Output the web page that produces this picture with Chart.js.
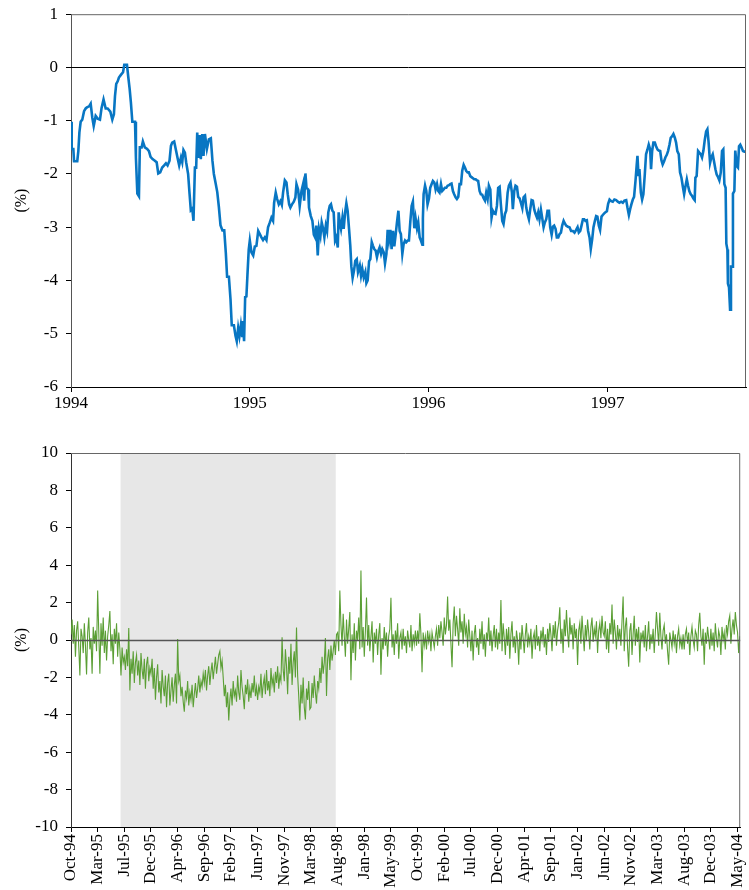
<!DOCTYPE html>
<html>
<head>
<meta charset="utf-8">
<script src="https://cdn.jsdelivr.net/npm/chart.js@4.4.1/dist/chart.umd.min.js"></script>
<style>
  html, body { margin: 0; padding: 0; background: #fff; overflow: hidden; }
  #wrap { position: relative; width: 749px; height: 890px; overflow: hidden; }
  canvas { position: absolute; left: 0; }
  #topChart { top: -4px; }
  #bottomChart { top: 420px; }
</style>
</head>
<body>
<div id="wrap">
  <canvas id="topChart" width="760" height="424"></canvas>
  <canvas id="bottomChart" width="760" height="470"></canvas>
</div>
<script>
// ---- top panel: 1994 - Oct 1997 (decimal years) ----
const topYears = [
  1994.000, 1994.004, 1994.013, 1994.017, 1994.035, 1994.041, 1994.047, 1994.054, 1994.063, 1994.073,
  1994.082, 1994.089, 1994.101, 1994.110, 1994.119, 1994.127, 1994.138, 1994.149, 1994.162, 1994.171,
  1994.182, 1994.194, 1994.205, 1994.220, 1994.231, 1994.240, 1994.246, 1994.253, 1994.261, 1994.268,
  1994.279, 1994.291, 1994.298, 1994.313, 1994.320, 1994.328, 1994.335, 1994.343, 1994.358, 1994.363,
  1994.371, 1994.380, 1994.385, 1994.395, 1994.402, 1994.413, 1994.426, 1994.436, 1994.445, 1994.456,
  1994.469, 1994.479, 1994.488, 1994.499, 1994.510, 1994.521, 1994.531, 1994.540, 1994.551, 1994.559,
  1994.566, 1994.577, 1994.588, 1994.596, 1994.605, 1994.615, 1994.622, 1994.629, 1994.637, 1994.644,
  1994.655, 1994.663, 1994.670, 1994.678, 1994.685, 1994.693, 1994.700, 1994.706, 1994.711, 1994.719,
  1994.726, 1994.734, 1994.741, 1994.749, 1994.760, 1994.771, 1994.782, 1994.791, 1994.799, 1994.808,
  1994.818, 1994.827, 1994.836, 1994.847, 1994.857, 1994.866, 1994.873, 1994.883, 1994.892, 1994.899,
  1994.911, 1994.920, 1994.927, 1994.935, 1994.942, 1994.950, 1994.957, 1994.961, 1994.968, 1994.974,
  1994.981, 1994.987, 1994.994,
  1995.000, 1995.009, 1995.019, 1995.028, 1995.037, 1995.047, 1995.056, 1995.065, 1995.074, 1995.084,
  1995.093, 1995.102, 1995.112, 1995.121, 1995.130, 1995.136, 1995.145, 1995.153, 1995.162, 1995.171,
  1995.179, 1995.186, 1995.196, 1995.205, 1995.212, 1995.220, 1995.227, 1995.236, 1995.246, 1995.255,
  1995.261, 1995.270, 1995.279, 1995.289, 1995.298, 1995.304, 1995.311, 1995.317, 1995.326, 1995.331,
  1995.341, 1995.350, 1995.358, 1995.365, 1995.372, 1995.380, 1995.387, 1995.395, 1995.402, 1995.410,
  1995.417, 1995.425, 1995.432, 1995.439, 1995.447, 1995.454, 1995.462, 1995.469, 1995.477, 1995.484,
  1995.492, 1995.497, 1995.503, 1995.510, 1995.518, 1995.525, 1995.533, 1995.540, 1995.547, 1995.555,
  1995.562, 1995.568, 1995.575, 1995.583, 1995.590, 1995.598, 1995.605, 1995.615, 1995.622, 1995.629,
  1995.637, 1995.646, 1995.652, 1995.659, 1995.667, 1995.674, 1995.682, 1995.689, 1995.696, 1995.704,
  1995.711, 1995.719, 1995.726, 1995.734, 1995.741, 1995.749, 1995.756, 1995.764, 1995.771, 1995.778,
  1995.786, 1995.793, 1995.801, 1995.808, 1995.816, 1995.823, 1995.831, 1995.838, 1995.845, 1995.853,
  1995.860, 1995.868, 1995.875, 1995.883, 1995.890, 1995.898, 1995.905, 1995.912, 1995.920, 1995.927,
  1995.935, 1995.942, 1995.950, 1995.957, 1995.965, 1995.968, 1995.972, 1995.980, 1995.987, 1995.994,
  1996.002, 1996.009, 1996.017, 1996.024, 1996.032, 1996.039, 1996.047, 1996.054, 1996.061, 1996.069,
  1996.076, 1996.084, 1996.091, 1996.099, 1996.106, 1996.114, 1996.121, 1996.128, 1996.136, 1996.143,
  1996.151, 1996.158, 1996.166, 1996.173, 1996.181, 1996.188, 1996.196, 1996.203, 1996.210, 1996.218,
  1996.225, 1996.233, 1996.240, 1996.248, 1996.255, 1996.263, 1996.270, 1996.277, 1996.285, 1996.292,
  1996.300, 1996.307, 1996.315, 1996.322, 1996.330, 1996.337, 1996.345, 1996.352, 1996.359, 1996.367,
  1996.374, 1996.382, 1996.389,
  1996.397, 1996.404, 1996.412, 1996.419, 1996.427, 1996.434, 1996.442, 1996.449, 1996.458, 1996.466,
  1996.471, 1996.479, 1996.486, 1996.494, 1996.501, 1996.509, 1996.516, 1996.524, 1996.531, 1996.539,
  1996.546, 1996.553, 1996.561, 1996.568, 1996.576, 1996.583, 1996.591, 1996.598, 1996.606, 1996.613,
  1996.620, 1996.628, 1996.635, 1996.643, 1996.650, 1996.658, 1996.665, 1996.673, 1996.680, 1996.688,
  1996.695, 1996.702, 1996.710, 1996.717, 1996.725, 1996.732, 1996.740, 1996.747, 1996.755, 1996.762,
  1996.769, 1996.779, 1996.788, 1996.797, 1996.807, 1996.816, 1996.825, 1996.833, 1996.840, 1996.848,
  1996.855, 1996.863, 1996.870, 1996.877, 1996.885, 1996.892, 1996.900, 1996.907, 1996.915, 1996.922,
  1996.930, 1996.937, 1996.944, 1996.952, 1996.959, 1996.967, 1996.974, 1996.982, 1996.989, 1996.997,
  1997.004, 1997.012, 1997.021, 1997.030, 1997.039, 1997.049, 1997.058, 1997.067, 1997.077, 1997.086,
  1997.095, 1997.105, 1997.112, 1997.120, 1997.127, 1997.134, 1997.142, 1997.149, 1997.157, 1997.164,
  1997.168, 1997.174, 1997.179, 1997.187, 1997.194, 1997.201, 1997.209, 1997.216, 1997.224, 1997.231,
  1997.239, 1997.244, 1997.250, 1997.257, 1997.265, 1997.272, 1997.280, 1997.287, 1997.295, 1997.302,
  1997.309, 1997.317, 1997.324, 1997.332, 1997.339, 1997.347, 1997.354, 1997.362, 1997.369, 1997.377,
  1997.384, 1997.391, 1997.399, 1997.406, 1997.414, 1997.421, 1997.429, 1997.436, 1997.444, 1997.451,
  1997.458, 1997.466, 1997.473, 1997.481, 1997.488, 1997.492, 1997.499, 1997.507, 1997.514, 1997.522,
  1997.529, 1997.537, 1997.544, 1997.552, 1997.559, 1997.566, 1997.574, 1997.581, 1997.589, 1997.596,
  1997.604, 1997.611, 1997.619, 1997.626, 1997.634, 1997.641, 1997.648, 1997.654, 1997.661, 1997.665,
  1997.671, 1997.674, 1997.680, 1997.686, 1997.691, 1997.697, 1997.702, 1997.710, 1997.715, 1997.723,
  1997.730, 1997.736, 1997.743, 1997.751, 1997.758, 1997.766, 1997.775
];
const topValues = [
  -1.02, -1.53, -1.53, -1.76, -1.76, -1.57, -1.22, -1.02, -0.98, -0.82,
  -0.77, -0.75, -0.73, -0.68, -0.94, -1.10, -0.91, -0.96, -0.98, -0.76,
  -0.60, -0.77, -0.77, -0.83, -0.98, -0.88, -0.54, -0.31, -0.26, -0.19,
  -0.14, -0.09, 0.05, 0.05, -0.17, -0.40, -0.66, -1.02, -1.02, -1.69,
  -2.37, -2.42, -1.50, -1.50, -1.39, -1.50, -1.53, -1.57, -1.68, -1.72,
  -1.75, -1.78, -1.99, -1.97, -1.88, -1.84, -1.80, -1.84, -1.75, -1.47,
  -1.41, -1.39, -1.57, -1.70, -1.84, -1.69, -1.78, -1.55, -1.60, -1.78,
  -2.00, -2.37, -2.68, -2.65, -2.88, -1.88, -1.88, -1.22, -1.70, -1.27,
  -1.72, -1.25, -1.66, -1.25, -1.53, -1.35, -1.33, -1.75, -2.00, -2.16,
  -2.34, -2.62, -2.96, -3.06, -3.06, -3.49, -3.93, -3.93, -4.35, -4.84,
  -4.84, -5.04, -5.14, -4.89, -5.04, -4.84, -5.04, -4.76, -5.14, -4.31,
  -4.30, -3.88, -3.42,
  -3.25, -3.47, -3.53, -3.36, -3.35, -3.07, -3.13, -3.19, -3.24, -3.19,
  -3.24, -3.00, -2.91, -2.82, -2.88, -2.54, -2.35, -2.47, -2.57, -2.51,
  -2.58, -2.35, -2.12, -2.16, -2.38, -2.57, -2.63, -2.57, -2.52, -2.44,
  -2.19, -2.29, -2.60, -2.32, -2.19, -2.50, -1.99, -2.26, -2.29, -2.63,
  -2.79, -2.88, -3.14, -3.19, -2.97, -3.53, -3.03, -3.16, -2.91, -3.03,
  -3.19, -2.97, -3.07, -2.72, -2.60, -2.57, -2.69, -2.72, -3.25, -3.19,
  -3.38, -2.72, -2.91, -3.03, -2.82, -3.03, -2.72, -2.55, -2.69, -3.03,
  -3.35, -3.74, -3.95, -3.81, -3.63, -3.60, -3.84, -3.72, -3.91, -3.78,
  -3.94, -3.84, -4.05, -4.00, -3.64, -3.60, -3.28, -3.35, -3.41, -3.44,
  -3.56, -3.44, -3.38, -3.50, -3.41, -3.47, -3.68, -3.50, -3.05, -3.25,
  -3.05, -3.41, -3.07, -3.36, -3.13, -2.91, -2.69, -3.07, -3.13, -3.50,
  -3.32, -3.25, -3.28, -3.25, -3.25, -2.88, -2.60, -2.52, -3.02, -2.83,
  -3.02, -2.91, -3.19, -3.25, -3.33, -2.83, -2.38, -2.22, -2.32, -2.57,
  -2.46, -2.26, -2.19, -2.13, -2.16, -2.29, -2.19, -2.32, -2.35, -2.19,
  -2.32, -2.29, -2.26, -2.26, -2.22, -2.21, -2.19, -2.18, -2.32, -2.38,
  -2.44, -2.47, -2.43, -2.19, -2.19, -1.94, -1.83, -1.88, -1.94, -1.97,
  -1.97, -2.04, -2.06, -2.08, -2.10, -2.10, -2.12, -2.13, -2.32, -2.38,
  -2.39, -2.45, -2.50, -2.35, -2.47, -2.22, -2.29, -2.82, -2.69, -2.74,
  -2.75, -2.60, -2.26,
  -2.24, -2.57, -2.88, -2.94, -2.75, -2.69, -2.35, -2.22, -2.16, -2.35,
  -2.66, -2.32, -2.22, -2.24, -2.43, -2.46, -2.54, -2.64, -2.44, -2.41,
  -2.63, -2.75, -2.85, -2.67, -2.49, -2.50, -2.67, -2.75, -2.82, -2.72,
  -2.85, -2.67, -2.82, -3.00, -2.91, -2.85, -2.69, -2.69, -3.00, -3.14,
  -2.99, -2.97, -3.03, -3.19, -3.19, -3.13, -3.10, -2.97, -2.88, -2.93,
  -2.97, -2.99, -3.00, -3.07, -3.07, -3.10, -3.05, -3.00, -3.10, -3.07,
  -2.97, -2.85, -2.85, -2.88, -2.87, -3.07, -3.19, -3.41, -3.22, -3.00,
  -2.88, -2.79, -2.80, -2.97, -3.05, -2.80, -2.77, -2.74, -2.72, -2.70,
  -2.56, -2.48, -2.51, -2.52, -2.48, -2.49, -2.52, -2.54, -2.52, -2.54,
  -2.50, -2.49, -2.63, -2.77, -2.66, -2.57, -2.48, -2.43, -2.13, -1.82,
  -1.66, -2.04, -1.91, -2.35, -2.48, -2.38, -2.01, -1.63, -1.54, -1.45,
  -1.54, -1.91, -1.57, -1.41, -1.41, -1.48, -1.54, -1.56, -1.57, -1.74,
  -1.82, -1.76, -1.69, -1.64, -1.57, -1.45, -1.32, -1.29, -1.25, -1.32,
  -1.41, -1.57, -1.63, -1.97, -2.07, -2.22, -2.38, -2.24, -2.10, -2.22,
  -2.32, -2.38, -2.41, -2.46, -2.49, -2.07, -2.04, -1.57, -1.60, -1.63,
  -1.69, -1.56, -1.37, -1.20, -1.16, -1.41, -1.79, -1.69, -1.63, -1.76,
  -1.91, -2.01, -2.06, -2.12, -1.97, -1.57, -1.54, -2.19, -2.26, -3.31,
  -3.42, -4.06, -4.13, -4.55, -3.74, -3.74, -2.37, -2.32, -1.56, -1.85,
  -1.88, -1.48, -1.45, -1.51, -1.57, -1.58, -1.58
];
const topYearTicks = [1994, 1995, 1996, 1997];

// ---- bottom panel: Oct-94 to May-04, 24 readings per tick interval ----
const bottomTickLabels = [
  'Oct-94', 'Mar-95', 'Jul-95', 'Dec-95', 'Apr-96', 'Sep-96', 'Feb-97', 'Jun-97', 'Nov-97',
  'Mar-98', 'Aug-98', 'Jan-98', 'May-99', 'Oct-99', 'Feb-00', 'Jul-00', 'Dec-00', 'Apr-01',
  'Sep-01', 'Jan-02', 'Jun-02', 'Nov-02', 'Mar-03', 'Aug-03', 'Dec-03', 'May-04'
];
const samplesPerTick = 24;
const bottomValues = [
  // Oct-94
  0.3, 1.1, -0.2, 0.8, -0.9, 0.5, 1.0, -0.4, -1.9, 0.6, 0.2, -0.7, 0.9, -0.3, -1.85, 0.4, 1.2, -0.5, 0.1, -1.8, 0.7, -0.2, 0.5, -0.6,
  // Mar-95
  2.65, 0.4, -1.8, 0.9, -0.3, 1.2, -0.7, 0.5, -1.1, 0.2, 0.8, 1.55, -0.6, 0.3, -1.3, 0.6, -0.2, 0.9, -0.9, 0.4, -0.5, -1.9, -0.4, -1.2,
  // Jul-95
  -0.9, -1.6, -0.5, -1.4, 0.64, -2.7, -1.0, -1.8, -0.6, -2.3, -1.2, -0.8, -1.9, -1.1, -2.4, -0.7, -1.6, -2.1, -1.0, -2.6, -1.3, -0.9, -2.2, -1.5,
  // Dec-95
  -1.8, -1.0, -2.6, -1.5, -3.2, -2.0, -1.3, -2.8, -2.2, -3.4, -1.6, -2.5, -3.0, -1.9, -3.6, -2.3, -1.8, -3.5, -2.7, -2.0, -3.3, -2.4, -1.8, -3.4,
  // Apr-96
  0.05, -2.2, -1.9, -3.0, -2.5, -3.3, -3.84, -2.7, -3.1, -2.2, -3.5, -2.8, -3.2, -2.4, -3.6, -2.9, -2.3, -3.1, -2.6, -1.9, -2.8, -2.2, -2.5, -1.8,
  // Sep-96
  -2.3, -1.6, -2.7, -1.9, -1.4, -2.4, -1.7, -1.2, -2.1, -1.5, -0.9, -1.8, -1.3, -0.8, -0.6, -1.5, -1.1, -2.0, -3.0, -2.4, -3.6, -2.8, -4.3, -3.2,
  // Feb-97
  -2.6, -3.5, -2.2, -3.0, -2.7, -3.3, -1.9, -2.8, -3.2, -1.6, -2.5, -3.0, -3.7, -2.4, -2.9, -2.1, -3.3, -2.6, -3.1, -2.3, -2.8, -1.9, -3.0, -2.5,
  // Jun-97
  -3.2, -2.5, -2.8, -1.8, -3.1, -2.4, -2.0, -2.9, -1.6, -2.7, -2.2, -3.0, -1.5, -2.4, -2.0, -2.8, -1.7, -2.3, -1.4, -2.6, -1.9, -2.2, 0.15, -1.6,
  // Nov-97
  -2.2, -0.5, -1.4, -2.9, -0.9, -1.8, -0.2, -2.4, -1.2, -0.6, -2.0, 0.67, -1.9, -3.0, -4.3, -2.4, -3.4, -2.0, -3.6, -4.25, -2.6, -3.2, -2.2, -3.7,
  // Mar-98
  -3.6, -2.3, -3.1, -1.9, -2.8, -3.4, -2.2, -2.6, -1.5, -2.3, -0.9, -1.8, -1.2, 0.1, -3.0, -1.0, -0.5, -1.6, -0.3, -1.1, -0.6, 0.0, -0.8, 0.3,
  // Aug-98
  0.4, -0.6, 2.65, 0.8, -0.3, 1.4, 0.2, -0.9, 1.1, -0.2, 0.6, 1.5, -2.15, 0.3, -0.7, 0.9, -1.1, 0.5, 0.0, 1.2, -0.5, 3.72, -0.4, 0.7,
  // Jan-98
  -0.9, 0.5, 2.27, -0.3, 0.8, -0.6, 0.2, 1.0, -1.2, 0.4, -0.2, 0.6, -0.8, 0.3, 0.9, -1.86, 0.1, -0.5, 0.7, -0.3, 0.4, -0.9, 0.2, 0.6,
  // May-99
  2.26, -0.4, 0.3, -0.8, 0.5, -0.2, 0.9, -1.0, 0.1, 0.4, -0.5, 0.6, -0.3, 0.2, -0.7, 0.5, 0.0, -0.4, 0.8, -0.6, 0.3, -0.2, 0.5, -0.3,
  // Oct-99
  0.5, -0.2, 1.43, 0.3, -1.73, 0.4, -0.3, 0.2, -0.5, 0.5, -0.1, 0.3, -0.6, 0.4, 0.0, -0.4, 0.2, 0.6, -0.3, 0.8, 0.1, 1.0, 0.4, -0.3,
  // Feb-00
  1.2, 0.3, 0.8, 2.33, 0.5, 1.1, -0.2, -1.46, 0.9, 1.79, 0.2, 1.3, 0.6, -0.3, 1.7, 0.4, 1.0, -0.2, 1.4, 0.3, 0.7, -0.4, 1.1, 0.2,
  // Jul-00
  -0.6, 0.5, -1.1, 0.3, 0.8, -0.4, 0.1, -0.8, 0.6, -0.2, 1.0, -0.5, 0.3, -0.9, 0.4, 0.0, 1.2, -0.3, 0.5, -0.6, 0.2, 0.8, -0.4, 0.6,
  // Dec-00
  -0.5, 0.4, -0.2, 2.14, -0.6, 0.9, 0.1, -0.8, 0.6, -0.3, 0.7, -1.0, 0.3, 1.0, -0.4, 0.2, -0.7, 0.5, 0.0, -1.32, 0.4, -0.5, 0.8, 0.1,
  // Apr-01
  -0.7, 0.3, 0.9, -0.4, 0.2, -0.2, 0.6, -1.0, 0.1, 0.4, -0.5, 0.8, -0.3, 0.2, -0.6, 0.5, 0.0, 0.7, -0.4, 0.3, -0.8, 0.6, -0.1, 0.9,
  // Sep-01
  0.3, -0.6, 0.8, 0.1, 1.0, -0.3, 0.5, 0.9, 1.75, -0.2, 0.6, -0.7, 1.1, 0.2, 1.6, 0.4, -0.4, 1.2, 0.3, 0.8, -0.5, 0.9, 0.1, 0.6,
  // Jan-02
  -1.34, 0.5, 0.9, -0.2, 1.3, 0.3, -0.6, 0.8, 0.0, 1.1, 0.4, -0.5, 0.7, 1.2, -0.1, 0.6, 0.2, 1.0, -0.7, 0.5, 0.9, 0.1, 1.3, 0.4,
  // Jun-02
  0.2, 1.0, -0.5, 0.6, -0.7, 0.9, 0.3, 1.9, -0.2, 1.1, 0.4, -0.5, 0.8, 0.0, 0.6, -0.3, 1.0, 2.33, -0.6, 0.7, 1.2, -0.4, -1.43, 0.5,
  // Nov-02
  0.9, -0.8, 0.3, 1.3, -0.3, 0.6, -0.1, 0.7, -1.2, 0.4, 0.0, 0.5, -0.4, 0.8, -0.6, 0.2, 1.0, -0.5, 0.3, -0.2, 0.6, -0.7, 0.4, 1.5,
  // Mar-03
  0.6, -0.3, 1.45, 0.2, -0.5, 0.5, 0.8, -0.2, 0.3, -0.6, -1.32, 0.4, 0.0, -0.4, 0.5, -0.2, 0.3, -0.7, 0.2, 0.6, -0.3, 0.1, -0.5, 0.3,
  // Aug-03
  -0.5, 0.3, 0.6, -0.2, 0.4, -0.8, 0.2, 0.7, 0.0, -0.4, 0.5, 0.3, -0.6, 0.8, 1.45, 0.2, -0.3, 0.6, -1.32, 0.4, -0.2, 0.7, 0.1, -0.5,
  // Dec-03
  0.6, -0.3, 0.4, -0.6, 0.9, 0.1, -0.4, 0.5, 0.2, -0.8, 0.7, 0.0, 0.4, -0.5, 0.8, 0.3, 1.0, 1.3, -0.2, 0.6, 1.1, 0.3, 1.5, 0.8,
  // May-04
  0.4, -0.7, 0.2
];
const shadeFrom = 1.86;   // just before Jul-95
const shadeTo = 9.93;     // just before Aug-98

const SERIF = '"Liberation Serif", "DejaVu Serif", serif';
Chart.defaults.font.family = SERIF;
Chart.defaults.font.size = 17;
Chart.defaults.color = '#000';

// shading, zero line and the top/right frame of each panel
const panelDecor = {
  id: 'panelDecor',
  beforeDatasetsDraw(chart, args, opts) {
    const { ctx, chartArea: a, scales: { x, y } } = chart;
    ctx.save();
    if (opts.shade) {
      const x0 = x.getPixelForValue(opts.shade[0]);
      const x1 = x.getPixelForValue(opts.shade[1]);
      ctx.fillStyle = '#e7e7e7';
      ctx.fillRect(x0, a.top, x1 - x0, a.bottom - a.top);
    }
    if (!opts.zeroOnTop) drawZero(ctx, a, y, opts);
    ctx.restore();
  },
  afterDatasetsDraw(chart, args, opts) {
    const { ctx, chartArea: a, scales: { y } } = chart;
    ctx.save();
    if (opts.zeroOnTop) drawZero(ctx, a, y, opts);
    ctx.strokeStyle = '#666';
    ctx.lineWidth = 1;
    ctx.beginPath();
    ctx.moveTo(a.left, a.top + 0.5);
    ctx.lineTo(a.right - 0.5, a.top + 0.5);
    ctx.lineTo(a.right - 0.5, a.bottom);
    ctx.stroke();
    ctx.restore();
  }
};
function drawZero(ctx, a, y, opts) {
  const yz = Math.round(y.getPixelForValue(0)) + 0.5;
  ctx.strokeStyle = opts.zeroColor;
  ctx.lineWidth = opts.zeroWidth;
  ctx.beginPath();
  ctx.moveTo(a.left, yz);
  ctx.lineTo(a.right, yz);
  ctx.stroke();
}

new Chart(document.getElementById('topChart'), {
  type: 'line',
  data: {
    datasets: [{
      data: topYears.map((yr, i) => ({ x: yr, y: topValues[i] })),
      borderColor: '#0876c3',
      borderWidth: 2.6,
      pointRadius: 0,
      tension: 0
    }]
  },
  options: {
    responsive: false,
    animation: false,
    layout: { padding: { left: 0, right: 14, top: 13, bottom: 0 } },
    plugins: {
      legend: { display: false },
      tooltip: { enabled: false },
      panelDecor: { zeroColor: '#000', zeroWidth: 1, zeroOnTop: false }
    },
    scales: {
      x: {
        type: 'linear',
        min: 1994,
        max: 1997.775,
        afterBuildTicks: s => { s.ticks = topYearTicks.map(v => ({ value: v })); },
        afterFit: s => { s.height = 33; },
        ticks: { callback: v => String(v), maxRotation: 0, padding: 1 },
        grid: { drawOnChartArea: false, tickLength: 5, color: '#000' },
        border: { color: '#000' }
      },
      y: {
        min: -6,
        max: 1,
        afterFit: s => { s.width = 71; },
        ticks: { stepSize: 1, padding: 8 },
        grid: { drawOnChartArea: false, tickLength: 5, color: '#000' },
        border: { color: '#555' },
        title: { display: true, text: '(%)', font: { size: 16 }, padding: { top: 12, bottom: 0 } }
      }
    }
  },
  plugins: [panelDecor]
});

new Chart(document.getElementById('bottomChart'), {
  type: 'line',
  data: {
    datasets: [{
      data: bottomValues.map((v, i) => ({ x: i / samplesPerTick, y: v })),
      borderColor: '#5b9f35',
      borderWidth: 1.1,
      pointRadius: 0,
      tension: 0
    }]
  },
  options: {
    responsive: false,
    animation: false,
    layout: { padding: { left: 0, right: 14, top: 33, bottom: 0 } },
    plugins: {
      legend: { display: false },
      tooltip: { enabled: false },
      panelDecor: { shade: [shadeFrom, shadeTo], zeroColor: '#555', zeroWidth: 1.6, zeroOnTop: true }
    },
    scales: {
      x: {
        type: 'linear',
        min: 0,
        max: 25.1,
        afterBuildTicks: s => { s.ticks = bottomTickLabels.map((_, k) => ({ value: k })); },
        afterFit: s => { s.height = 63; },
        ticks: {
          callback: (v, i) => bottomTickLabels[i],
          autoSkip: false,
          minRotation: 90,
          maxRotation: 90,
          padding: 2
        },
        grid: { drawOnChartArea: false, tickLength: 5, color: '#000' },
        border: { color: '#000' }
      },
      y: {
        min: -10,
        max: 10,
        afterFit: s => { s.width = 71; },
        ticks: { stepSize: 2, padding: 8 },
        grid: { drawOnChartArea: false, tickLength: 5, color: '#000' },
        border: { color: '#333' },
        title: { display: true, text: '(%)', font: { size: 16 }, padding: { top: 12, bottom: 0 } }
      }
    }
  },
  plugins: [panelDecor]
});
</script>
</body>
</html>
